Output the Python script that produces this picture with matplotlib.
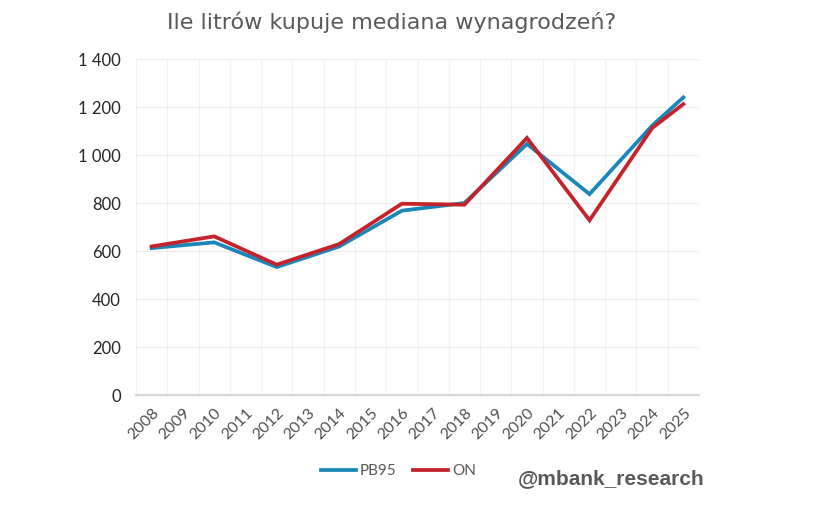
import matplotlib
matplotlib.use("Agg")
import matplotlib.pyplot as plt
from matplotlib.ticker import FuncFormatter, FixedLocator
from matplotlib.lines import Line2D

years = [str(y) for y in range(2008, 2026)]
pb95 = [612, None, 636, None, 533, None, 619, None, 768, None, 800, None, 1046, None, 837, None, 1122, 1240]
on = [619, None, 661, None, 543, None, 629, None, 797, None, 793, None, 1071, None, 728, None, 1112, 1212]
series_names = ["PB95", "ON"]
colors = ["#1b86b9", "#c4232c"]
yticks = [0, 200, 400, 600, 800, 1000, 1200, 1400]
title = "Ile litrów kupuje mediana wynagrodzeń?"
watermark = "@mbank_research"

fig = plt.figure(figsize=(8.26, 5.13), dpi=100)
ax = fig.add_axes([136/826, 1-395/513, (699-136)/826, (395-59)/513])

for vals, col, name in zip([pb95, on], colors, series_names):
    xs = [i for i, v in enumerate(vals) if v is not None]
    ys = [v for v in vals if v is not None]
    ax.plot(xs, ys, color=col, lw=2.7, label=name, solid_joinstyle="miter", zorder=3)

ax.set_xlim(-0.5, len(years) - 0.5)
ax.set_ylim(0, 1400)
ax.set_xticks(range(len(years)))
ax.set_xticklabels(years, rotation=45, ha="right", rotation_mode="anchor",
                   fontsize=11.5, color="#505050", family="Lato")
ax.xaxis.set_minor_locator(FixedLocator([i + 0.5 for i in range(-1, len(years))]))
ax.set_yticks(yticks)
ax.yaxis.set_major_formatter(FuncFormatter(lambda v, p: f"{int(v):,}".replace(",", " ")))
for lab in ax.get_yticklabels():
    lab.set_family("Lato")
    lab.set_fontsize(12)
    lab.set_color("#262626")
ax.tick_params(axis="both", which="both", length=0)
ax.tick_params(axis="y", pad=11)
ax.tick_params(axis="x", pad=8)
ax.grid(axis="y", which="major", color="#eeeeee", lw=0.9)
ax.grid(axis="x", which="minor", color="#f2f2f2", lw=0.8)
for s in ["top", "right", "left"]:
    ax.spines[s].set_visible(False)
ax.spines["bottom"].set_color("#d9d9d9")
ax.spines["bottom"].set_linewidth(1.6)
ax.set_axisbelow(True)

fig.text(0.474, 0.957, title, ha="center", va="center", fontsize=16,
         color="#595959", family="DejaVu Sans")

handles = [Line2D([0], [0], color=c, lw=2.7) for c in colors]
leg = fig.legend(handles, series_names, loc="center", bbox_to_anchor=(0.482, 0.082),
                 ncol=2, frameon=False, handlelength=2.3, handletextpad=0.25,
                 columnspacing=1.1, prop={"family": "Lato", "size": 11})
for t in leg.get_texts():
    t.set_color("#595959")

fig.text(0.853, 0.068, watermark, ha="right", va="center", fontsize=15,
         fontweight="bold", color="#595959", family="Liberation Sans")

fig.savefig("out.png", dpi=100, facecolor="white")
